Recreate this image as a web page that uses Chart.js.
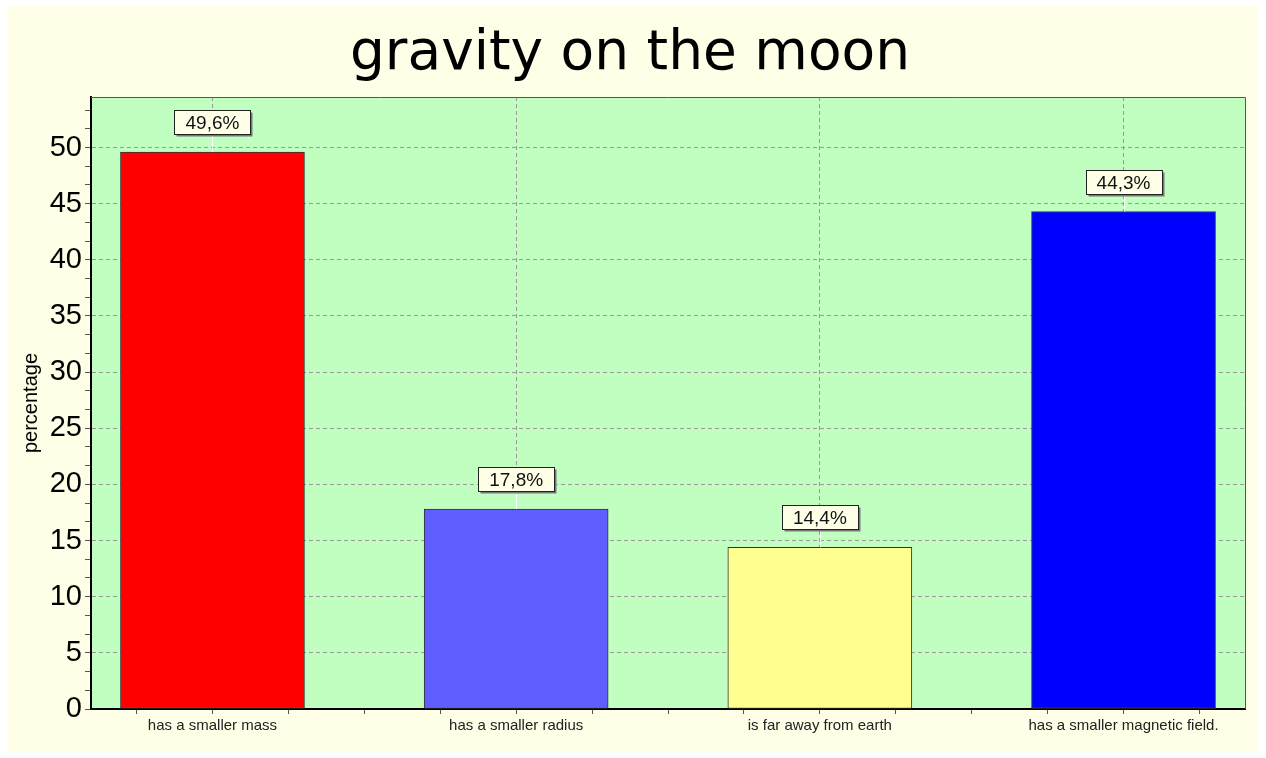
<!DOCTYPE html>
<html>
<head>
<meta charset="utf-8">
<script src="https://cdn.jsdelivr.net/npm/chart.js@4.4.0/dist/chart.umd.min.js"></script>
<style>
  html, body { margin: 0; padding: 0; background: #ffffff; }
  #wrap { width: 1266px; height: 758px; }
</style>
</head>
<body>
<div id="wrap"><canvas id="moonChart" width="1266" height="758"></canvas></div>
<script>
// chart data
var categories = ["has a smaller mass", "has a smaller radius", "is far away from earth", "has a smaller magnetic field."];
var percentages = [49.6, 17.8, 14.4, 44.3];
var barColors = ["#ff0000", "#5f5fff", "#ffff8f", "#0000ff"];
var yTicks = [0, 5, 10, 15, 20, 25, 30, 35, 40, 45, 50];

var isMajorY = function (v) { return Math.abs(v / 5 - Math.round(v / 5)) < 1e-6; };

// cream frame, green plot background and the plot border
var framePlugin = {
    id: 'frame',
    beforeDraw: function (chart) {
        var ctx = chart.ctx, a = chart.chartArea;
        ctx.save();
        ctx.fillStyle = '#ffffff';
        ctx.fillRect(0, 0, chart.width, chart.height);
        ctx.fillStyle = '#ffffe8';
        ctx.fillRect(8, 6, chart.width - 16, chart.height - 12);
        ctx.fillStyle = '#c0ffc0';
        ctx.fillRect(a.left, a.top, a.right - a.left, a.bottom - a.top);
        ctx.restore();
    },
    afterDraw: function (chart) {
        var ctx = chart.ctx, a = chart.chartArea;
        ctx.save();
        ctx.strokeStyle = '#555';
        ctx.lineWidth = 1;
        ctx.beginPath();
        ctx.moveTo(a.left, a.top + 0.5);
        ctx.lineTo(a.right + 0.5, a.top + 0.5);
        ctx.lineTo(a.right + 0.5, a.bottom);
        ctx.stroke();
        ctx.restore();
    }
};

// value boxes above each bar
var valueBoxPlugin = {
    id: 'valueBoxes',
    afterDatasetsDraw: function (chart) {
        var ctx = chart.ctx;
        var meta = chart.getDatasetMeta(0);
        ctx.save();
        ctx.font = '19px "Liberation Sans", Arial, sans-serif';
        ctx.textAlign = 'center';
        ctx.textBaseline = 'middle';
        meta.data.forEach(function (bar, i) {
            var txt = percentages[i].toFixed(1).replace('.', ',') + '%';
            var w = Math.round(ctx.measureText(txt).width + 22);
            var h = 24;
            var bx = Math.round(bar.x - w / 2) + 0.5;
            var by = Math.round(bar.y - 18 - h) + 0.5;
            // connector
            ctx.strokeStyle = '#ffffff';
            ctx.lineWidth = 1;
            ctx.beginPath();
            ctx.moveTo(Math.round(bar.x) + 0.5, by + h);
            ctx.lineTo(Math.round(bar.x) + 0.5, bar.y);
            ctx.stroke();
            // shadow
            ctx.fillStyle = '#777';
            ctx.fillRect(bx + 2, by + 2, w, h);
            ctx.fillStyle = '#ffffe8';
            ctx.fillRect(bx, by, w, h);
            ctx.strokeStyle = '#222';
            ctx.strokeRect(bx, by, w, h);
            ctx.fillStyle = '#111';
            ctx.fillText(txt, bar.x, by + h / 2 + 1);
        });
        ctx.restore();
    }
};

var moonChart = new Chart(document.getElementById('moonChart').getContext('2d'), {
    type: 'bar',
    data: {
        datasets: [
            {
                data: percentages.map(function (v, i) { return { x: i, y: v }; }),
                backgroundColor: barColors,
                borderColor: '#333',
                borderWidth: 1,
                borderSkipped: false,
                barThickness: 184
            }
        ]
    },
    options: {
        responsive: false,
        animation: false,
        layout: { padding: { left: 15, right: 21, top: 0, bottom: 0 } },
        plugins: {
            legend: { display: false },
            tooltip: { enabled: false },
            title: {
                display: true,
                text: 'gravity on the moon',
                color: '#000',
                font: { family: '"DejaVu Sans", sans-serif', size: 55, weight: 'normal', lineHeight: 1.2 },
                padding: { top: 22, bottom: 9 }
            }
        },
        scales: {
            x: {
                type: 'linear',
                offset: false,
                min: -0.4,
                max: 3.4,
                afterBuildTicks: function (scale) {
                    var t = [];
                    for (var k = -1; k <= 13; k++) t.push({ value: k * 0.25 });
                    scale.ticks = t;
                },
                afterFit: function (scale) { scale.height = 49; },
                ticks: {
                    autoSkip: false,
                    maxRotation: 0,
                    color: '#222',
                    padding: 3,
                    font: { family: '"Liberation Sans", Arial, sans-serif', size: 15 },
                    callback: function (v) { return Number.isInteger(v) ? categories[v] : ''; }
                },
                grid: {
                    offset: false,
                    color: function (c) { return c.tick && Number.isInteger(c.tick.value) ? '#999' : 'rgba(0,0,0,0)'; },
                    tickColor: '#555',
                    tickLength: 5,
                    tickBorderDash: [],
                    lineWidth: 1
                },
                border: { color: '#000', width: 2, dash: [4, 3] }
            },
            y: {
                min: 0,
                max: 54.5,
                afterBuildTicks: function (scale) {
                    var t = [];
                    for (var k = 0; k <= 32; k++) t.push({ value: k * 5 / 3 });
                    scale.ticks = t;
                },
                afterFit: function (scale) { scale.width = 76; },
                ticks: {
                    autoSkip: false,
                    color: '#000',
                    padding: 3,
                    font: { family: '"Liberation Sans", Arial, sans-serif', size: 29 },
                    callback: function (v) {
                        if (!isMajorY(v)) return '';
                        return yTicks[Math.round(v / 5)];
                    }
                },
                grid: {
                    color: function (c) { return c.tick && isMajorY(c.tick.value) && c.tick.value > 0 ? '#999' : 'rgba(0,0,0,0)'; },
                    tickColor: '#555',
                    tickLength: 6,
                    tickBorderDash: [],
                    lineWidth: 1
                },
                border: { color: '#000', width: 2, dash: [4, 3] },
                title: {
                    display: true,
                    text: 'percentage',
                    color: '#000',
                    font: { family: '"Liberation Sans", Arial, sans-serif', size: 20 },
                    padding: { top: 4, bottom: 0 }
                }
            }
        }
    },
    plugins: [framePlugin, valueBoxPlugin]
});
</script>
</body>
</html>
